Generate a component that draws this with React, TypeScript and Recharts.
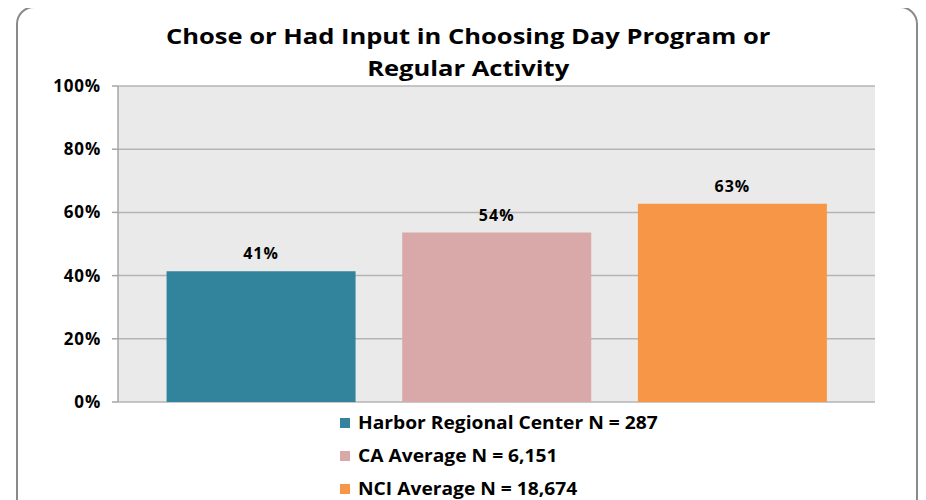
import React from "react";
import { BarChart, Bar, XAxis, YAxis, CartesianGrid, Cell, LabelList } from "recharts";

const categories = ["Harbor Regional Center N = 287", "CA Average N = 6,151", "NCI Average N = 18,674"];
const values = [41.4, 53.6, 62.7];
const colors = ["#31849B", "#D9A9AA", "#F79646"];
const yTicks = [0, 20, 40, 60, 80, 100];

const font = "'Open Sans', 'DejaVu Sans', sans-serif";

export default function App() {
  const data = categories.map((name, i) => ({ name, value: values[i] }));

  return (
    <div style={{ position: "relative", width: 926, height: 500, margin: "-8px 0 0 -8px", overflow: "hidden", background: "#fff", fontFamily: font }}>
      <div
        style={{
          position: "absolute",
          left: 16,
          top: 6,
          width: 898,
          height: 540,
          border: "2px solid #8a8a8a",
          borderRadius: 18,
        }}
      />
      <div
        style={{
          position: "absolute",
          left: 0,
          width: 936,
          top: 19,
          textAlign: "center",
          fontWeight: 700,
          fontSize: 22,
          lineHeight: "32px",
          color: "#000",
          transform: "scaleX(1.16)",
          transformOrigin: "467px 0",
        }}
      >
        Chose or Had Input in Choosing Day Program or
        <br />
        Regular Activity
      </div>
      <div style={{ position: "absolute", left: 0, top: 0 }}>
        <BarChart width={926} height={500} data={data} margin={{ top: 86, right: 51, bottom: 98, left: 58 }} barCategoryGap="10%">
          <CartesianGrid vertical={false} fill="#EAEAEA" stroke="#B4B4B4" strokeWidth={1.5} />
          <XAxis dataKey="name" hide padding={{ left: 25, right: 25 }} />
          <YAxis
            width={60}
            domain={[0, 100]}
            ticks={yTicks}
            tickFormatter={(v: number) => `${v}%`}
            axisLine={{ stroke: "#A6A6A6", strokeWidth: 1.5 }}
            tickLine={{ stroke: "#A6A6A6", strokeWidth: 1.5 }}
            tickSize={6}
            tickMargin={11}
            tick={{ fill: "#000", fontSize: 17, fontWeight: 700, fontFamily: font, letterSpacing: 0.8 }}
          />
          <Bar dataKey="value" isAnimationActive={false}>
            {data.map((d, i) => (
              <Cell key={d.name} fill={colors[i]} />
            ))}
            <LabelList
              dataKey="value"
              position="top"
              offset={12}
              formatter={(v: number) => `${Math.round(v)}%`}
              style={{ fill: "#000", fontSize: 16, fontWeight: 700, fontFamily: font, letterSpacing: 1 }}
            />
          </Bar>
        </BarChart>
      </div>
      <div style={{ position: "absolute", left: 340, top: 406 }}>
        {categories.map((name, i) => (
          <div key={name} style={{ display: "flex", alignItems: "center", height: 33, fontSize: 17, fontWeight: 700, color: "#000" }}>
            <span style={{ display: "inline-block", width: 10, height: 10, background: colors[i], marginRight: 8 }} />
            <span style={{ display: "inline-block", transform: "scaleX(1.13)", transformOrigin: "0 50%" }}>{name}</span>
          </div>
        ))}
      </div>
    </div>
  );
}
